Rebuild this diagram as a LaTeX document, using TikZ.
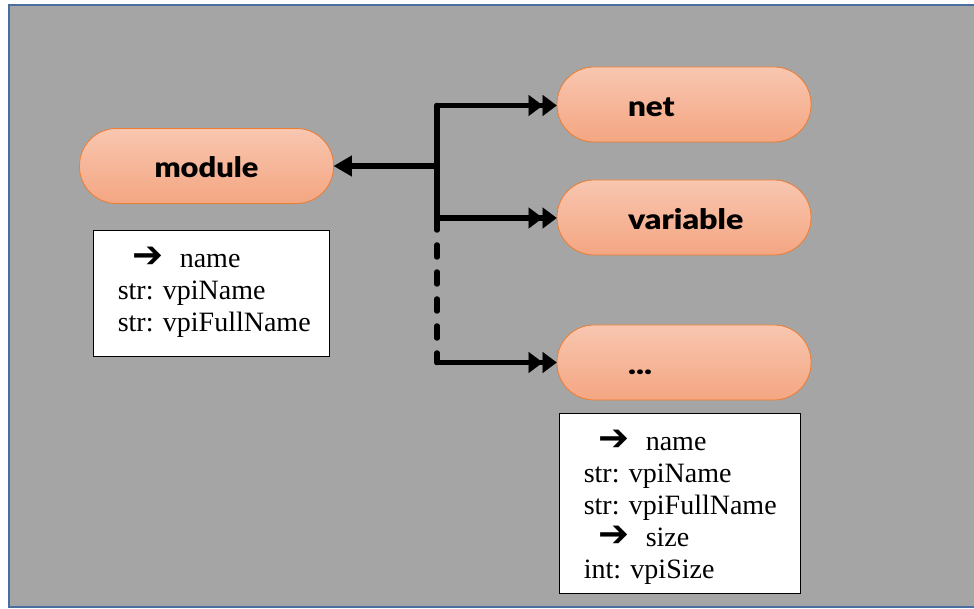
\documentclass[tikz,border=0pt]{standalone}
\usepackage{fontspec}
\setmainfont{Liberation Serif}
\newfontfamily\pillfont{Lato Black}
\newfontfamily\symfont{DejaVu Sans Bold}
\usetikzlibrary{arrows.meta}
\definecolor{bggray}{RGB}{165,165,165}
\definecolor{frameblue}{RGB}{74,110,160}
\definecolor{pilltop}{RGB}{248,198,176}
\definecolor{pillbot}{RGB}{244,166,130}
\definecolor{pillborder}{RGB}{237,125,49}
\newcommand{\arr}{\smash{\symfont\fontsize{37}{32}\selectfont ➔}}
\newcommand{\pilltxt}[2]{\raisebox{-12pt}[0pt][0pt]{\scalebox{#1}[1]{#2}}}
\begin{document}
\begin{tikzpicture}[x=1pt,y=-1pt,
  pill/.style={draw=pillborder, line width=0.8pt, top color=pilltop, bottom color=pillbot,
    rounded corners=37pt, minimum width=254pt, minimum height=75pt, inner sep=0pt,
    font=\pillfont\fontsize{28}{30}\selectfont},
  leftpill/.style={pill, text width=112pt, align=left, inner xsep=71pt},
  infobox/.style={draw=black, line width=0.8pt, fill=white, inner sep=0pt},
  boxtext/.style={anchor=west, align=left, inner sep=0pt, font=\fontsize{28}{32}\selectfont},
  conn/.style={line width=5.5pt, black},
  dbl/.style={-{Triangle[length=14pt,width=21pt,line width=0.1pt] Triangle[length=14pt,width=21pt,line width=0.1pt]}},
  sgl/.style={-{Triangle[length=18pt,width=21pt,line width=0.1pt]}}
]
\useasboundingbox (0,0) rectangle (974,609);
\fill[white] (0,0) rectangle (974,609);
\draw[fill=bggray, draw=frameblue, line width=2.5pt] (9,5) rectangle (977,607);

% pills
\node[pill] (module) at (206.5,166) {\pilltxt{1.1}{module}};
\node[leftpill] (net) at (684,104.5) {\pilltxt{1.12}{net}};
\node[leftpill] (variable) at (684,217.5) {\pilltxt{1.15}{variable}};
\node[leftpill] (dots) at (684,362.5) {\pilltxt{1.2}{...}};

% info boxes
\node[infobox, minimum width=236pt, minimum height=126pt] (b1) at (211,293) {};
\node[boxtext] (t1) at ([xshift=25pt,yshift=-3pt]b1.west)
  {\hspace*{15pt}\arr\hspace{16pt}name\\str: vpiName\\str: vpiFullName};
\node[infobox, minimum width=241pt, minimum height=180pt] (b2) at (679.5,503) {};
\node[boxtext] (t2) at ([xshift=25pt,yshift=-8pt]b2.west)
  {\hspace*{15pt}\arr\hspace{16pt}name\\str: vpiName\\str: vpiFullName\\\hspace*{15pt}\arr\hspace{16pt}size\\int: vpiSize};

% connectors
\coordinate (j1) at (437,105.5);
\coordinate (j2) at (437,166);
\coordinate (j3) at (437,218);
\coordinate (j4) at (437,362.5);
\draw[conn, line cap=round] (j1) -- (j3);
\draw[conn, sgl] (j2) -- (module.east);
\draw[conn, dbl, line cap=round] (j1) -- (j1 -| net.west);
\draw[conn, dbl] (j3) -- (j3 -| variable.west);
\draw[conn, line cap=round, dash pattern=on 12pt off 15pt] (j3) -- (j4);
\draw[conn, dbl, line cap=round] (j4) -- (j4 -| dots.west);
\end{tikzpicture}
\end{document}
